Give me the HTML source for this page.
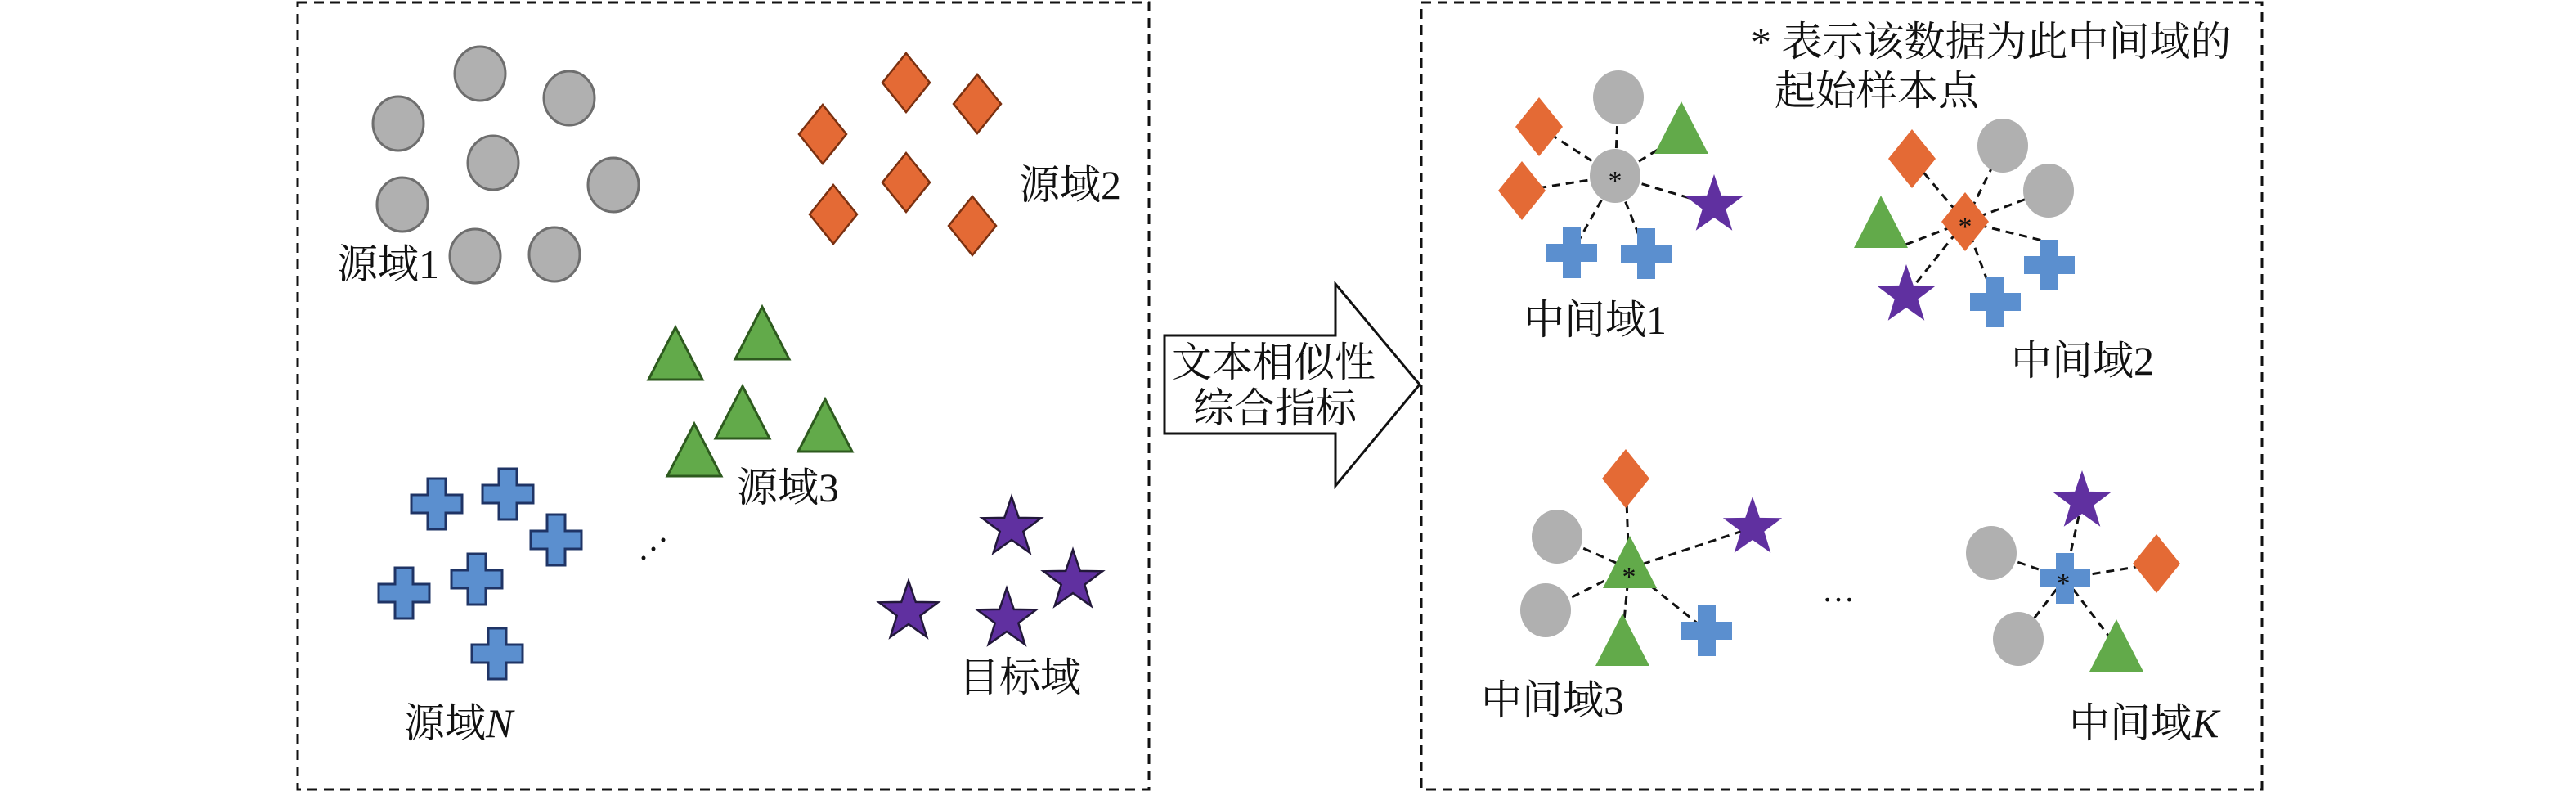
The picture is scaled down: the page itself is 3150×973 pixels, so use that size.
<!DOCTYPE html>
<html><head><meta charset="utf-8"><style>
html,body{margin:0;padding:0;background:#fff}
svg{display:block}
text{font-family:"Liberation Serif","Noto Serif CJK SC",serif;fill:#111}
</style></head><body>
<svg width="3150" height="973" viewBox="0 0 3150 973" xmlns="http://www.w3.org/2000/svg">
<defs>
<symbol id="c" overflow="visible"><ellipse cx="0" cy="0" rx="31" ry="33"/></symbol>
<symbol id="d" overflow="visible"><polygon points="0,-36 29,0 0,36 -29,0"/></symbol>
<symbol id="t" overflow="visible"><polygon points="0,-32 33,32 -33,32"/></symbol>
<symbol id="x" overflow="visible"><polygon points="-11,-31 11,-31 11,-11 31,-11 31,11 11,11 11,31 -11,31 -11,11 -31,11 -31,-11 -11,-11"/></symbol>
<symbol id="s" overflow="visible"><polygon points="0,-38 8.8,-12.1 36.1,-11.7 14.3,4.6 22.3,30.7 0,15 -22.3,30.7 -14.3,4.6 -36.1,-11.7 -8.8,-12.1"/></symbol>
</defs>

<rect x="364" y="3" width="1041" height="962" fill="none" stroke="#111" stroke-width="3" stroke-dasharray="12,8"/>
<rect x="1738" y="3" width="1028" height="962" fill="none" stroke="#111" stroke-width="3" stroke-dasharray="12,8"/>

<g fill="#b0b0b0" stroke="#6e6e6e" stroke-width="3">
<use href="#c" x="587" y="90"/><use href="#c" x="696" y="120"/><use href="#c" x="487" y="151"/>
<use href="#c" x="603" y="199"/><use href="#c" x="750" y="226"/><use href="#c" x="492" y="250"/>
<use href="#c" x="581" y="313"/><use href="#c" x="678" y="311"/>
</g>
<g fill="#e46a35" stroke="#7a3010" stroke-width="2.5">
<use href="#d" x="1108" y="101"/><use href="#d" x="1195" y="127"/><use href="#d" x="1006" y="164"/>
<use href="#d" x="1108" y="223"/><use href="#d" x="1019" y="262"/><use href="#d" x="1189" y="276"/>
</g>
<g fill="#62aa4a" stroke="#2d5a1e" stroke-width="3">
<use href="#t" x="826" y="432"/><use href="#t" x="932" y="407"/><use href="#t" x="908" y="504"/>
<use href="#t" x="1009" y="520"/><use href="#t" x="849" y="550"/>
</g>
<g fill="#5b8fcf" stroke="#1f3466" stroke-width="3">
<use href="#x" x="534" y="616"/><use href="#x" x="621" y="604"/><use href="#x" x="680" y="660"/>
<use href="#x" x="494" y="725"/><use href="#x" x="583" y="708"/><use href="#x" x="608" y="799"/>
</g>
<g fill="#6030a0" stroke="#22183a" stroke-width="2.5">
<use href="#s" x="1237" y="645"/><use href="#s" x="1312" y="710"/><use href="#s" x="1111" y="748"/><use href="#s" x="1231" y="757"/>
</g>
<text x="1246" y="243" font-size="50">源域2</text>
<text x="412" y="340" font-size="50">源域1</text>
<text x="901" y="613" font-size="50">源域3</text>
<text x="494" y="901" font-size="50">源域<tspan font-style="italic">N</tspan></text>
<text x="1172" y="845" font-size="50">目标域</text>
<g fill="#111"><circle cx="787" cy="682" r="2.5"/><circle cx="799" cy="671" r="2.5"/><circle cx="811" cy="660" r="2.5"/></g>

<polygon points="1424,410 1633,410 1633,347 1736,470 1633,594 1633,530 1424,530" fill="#fff" stroke="#111" stroke-width="3"/>
<text x="1432" y="460" font-size="50">文本相似性</text>
<text x="1459" y="516" font-size="50">综合指标</text>

<text x="2141" y="68" font-size="50">* 表示该数据为此中间域的</text>
<text x="2170" y="128" font-size="50">起始样本点</text>

<g stroke="#111" stroke-width="3" stroke-dasharray="10,7" fill="none">
<line x1="1975" y1="215" x2="1979" y2="119"/><line x1="1975" y1="215" x2="2045" y2="172"/>
<line x1="1975" y1="215" x2="1882" y2="155"/><line x1="1975" y1="215" x2="1861" y2="233"/>
<line x1="1975" y1="215" x2="2096" y2="251"/><line x1="1975" y1="215" x2="1922" y2="309"/>
<line x1="1975" y1="215" x2="2013" y2="310"/>
<line x1="2403" y1="271" x2="2449" y2="178"/><line x1="2403" y1="271" x2="2505" y2="233"/>
<line x1="2403" y1="271" x2="2338" y2="194"/><line x1="2403" y1="271" x2="2330" y2="299"/>
<line x1="2403" y1="271" x2="2331" y2="361"/><line x1="2403" y1="271" x2="2440" y2="369"/>
<line x1="2403" y1="271" x2="2506" y2="296"/>
<line x1="1992" y1="695" x2="1988" y2="585"/><line x1="1992" y1="695" x2="1904" y2="656"/>
<line x1="1992" y1="695" x2="1890" y2="746"/><line x1="1992" y1="695" x2="2143" y2="645"/>
<line x1="1992" y1="695" x2="1984" y2="780"/><line x1="1992" y1="695" x2="2087" y2="771"/>
<line x1="2525" y1="707" x2="2546" y2="613"/><line x1="2525" y1="707" x2="2637" y2="689"/>
<line x1="2525" y1="707" x2="2435" y2="676"/><line x1="2525" y1="707" x2="2468" y2="781"/>
<line x1="2525" y1="707" x2="2588" y2="790"/>
</g>

<g fill="#b0b0b0">
<use href="#c" x="1975" y="215"/><use href="#c" x="1979" y="119"/>
<use href="#c" x="2449" y="178"/><use href="#c" x="2505" y="233"/>
<use href="#c" x="1904" y="656"/><use href="#c" x="1890" y="746"/>
<use href="#c" x="2435" y="676"/><use href="#c" x="2468" y="781"/>
</g>
<g fill="#e46a35">
<use href="#d" x="1882" y="155"/><use href="#d" x="1861" y="233"/>
<use href="#d" x="2403" y="271"/><use href="#d" x="2338" y="194"/>
<use href="#d" x="1988" y="585"/><use href="#d" x="2637" y="689"/>
</g>
<g fill="#62aa4a">
<use href="#t" x="2056" y="156"/><use href="#t" x="2300" y="271"/>
<use href="#t" x="1993" y="687"/><use href="#t" x="1984" y="782"/><use href="#t" x="2588" y="789"/>
</g>
<g fill="#5b8fcf">
<use href="#x" x="1922" y="309"/><use href="#x" x="2013" y="310"/>
<use href="#x" x="2440" y="369"/><use href="#x" x="2506" y="324"/>
<use href="#x" x="2087" y="771"/><use href="#x" x="2525" y="707"/>
</g>
<g fill="#6030a0">
<use href="#s" x="2096" y="251"/><use href="#s" x="2331" y="361"/>
<use href="#s" x="2143" y="645"/><use href="#s" x="2546" y="613"/>
</g>
<g font-size="34" text-anchor="middle">
<text x="1975" y="232">*</text><text x="2403" y="288">*</text>
<text x="1992" y="716">*</text><text x="2523" y="724">*</text>
</g>
<text x="1863" y="408" font-size="50">中间域1</text>
<text x="2459" y="458" font-size="50">中间域2</text>
<text x="1811" y="873" font-size="50">中间域3</text>
<text x="2530" y="901" font-size="50">中间域<tspan font-style="italic">K</tspan></text>
<text x="2228" y="735" font-size="40">…</text>
</svg>
</body></html>
